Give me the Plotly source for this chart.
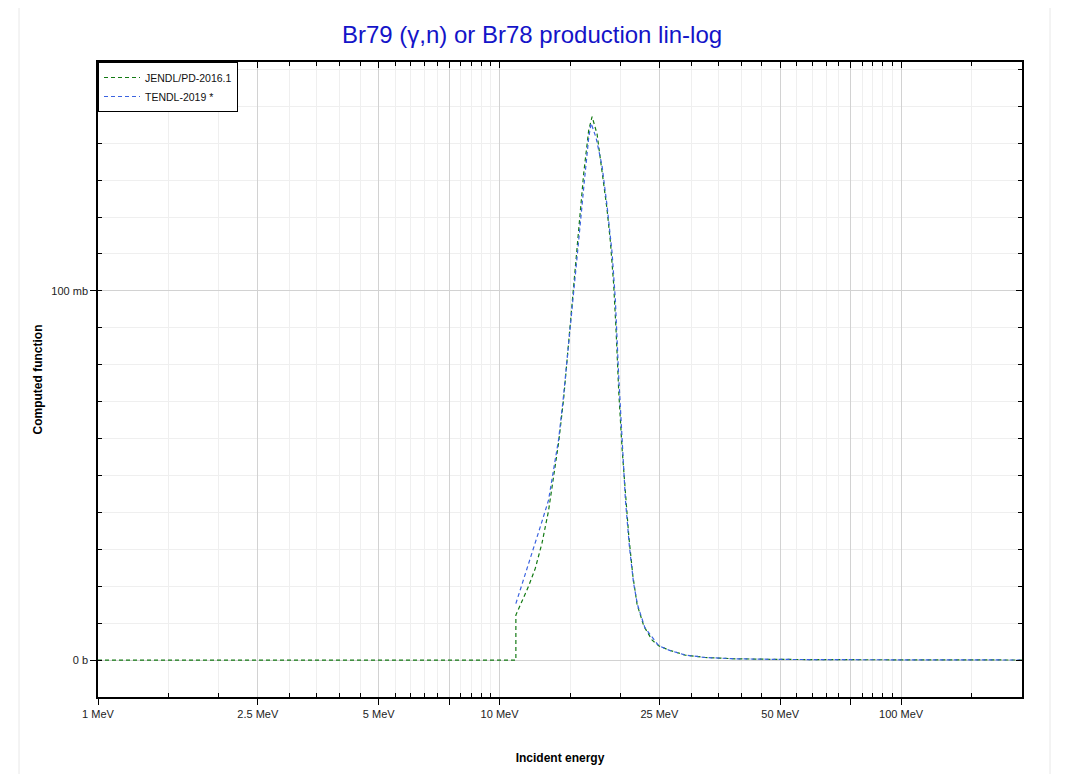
import plotly.graph_objects as go

# JENDL/PD-2016.1 (energy in MeV, cross section in mb)
jendl_E = [1, 10.98, 10.98, 11.8, 12.27, 12.75, 13.24, 13.63, 14.03, 14.43,
           14.86, 15.29, 15.73, 16.2, 16.67, 17.0, 17.49, 18.0, 18.52, 18.88,
           19.24, 19.51, 19.81, 20.2, 20.58, 20.98, 21.47, 22.0, 22.87, 23.99,
           24.9, 26.4, 29.0, 32.5, 38.6, 49.5, 75, 120, 200]
jendl_mb = [0, 0, 12.2, 19.9, 24.8, 31.6, 40.4, 49.1, 58.9, 70.5,
            86.1, 100.7, 115.3, 131.8, 143.5, 147.2, 142.5, 132.8, 122.1, 113.3,
            101.7, 89.0, 72.5, 56.9, 44.3, 33.6, 22.9, 15.1, 9.2, 5.4,
            3.9, 2.7, 1.36, 0.7, 0.35, 0.18, 0.1, 0.05, 0.02]

# TENDL-2019
tendl_E = [10.98, 11.8, 12.27, 12.75, 13.24, 13.63, 14.03, 14.43, 14.86, 15.29,
           15.73, 16.2, 16.67, 16.9, 17.39, 18.0, 18.52, 19.06, 19.42, 19.81,
           20.2, 20.58, 21.06, 21.56, 22.04, 23.0, 24.9, 26.4, 29.0, 32.5,
           38.6, 49.5, 75, 120, 200]
tendl_mb = [15.3, 25.8, 31.6, 37.5, 43.3, 51.1, 59.8, 71.5, 85.1, 99.7,
            113.3, 127.9, 141.5, 145.4, 141.5, 133.8, 123.1, 110.4, 97.8, 76.4,
            57.9, 43.3, 30.6, 20.9, 15.1, 8.8, 3.9, 2.7, 1.36, 0.7,
            0.35, 0.18, 0.1, 0.05, 0.02]

series_names = ["JENDL/PD-2016.1", "TENDL-2019 *"]

x_tickvals = [1, 2.5, 5, 7.5, 10, 25, 50, 75, 100]
x_ticktext = ["1 MeV", "2.5 MeV", "5 MeV", "", "10 MeV", "25 MeV", "50 MeV", "", "100 MeV"]
x_minor = [1.5, 2, 3, 3.5, 4, 4.5, 5.5, 6, 6.5, 7, 8, 8.5, 9, 9.5,
           15, 20, 30, 35, 40, 45, 55, 60, 65, 70, 80, 85, 90, 95, 150]
y_tickvals = [0, 100]
y_ticktext = ["0 b", "100 mb"]

X_RANGE = [0, 2.301]
Y_RANGE = [-10, 162]

FONT = "Arial, 'Liberation Sans', sans-serif"

fig = go.Figure()
fig.add_trace(go.Scatter(x=jendl_E, y=jendl_mb, mode="lines", name=series_names[0],
                         line=dict(color="#137a13", width=1.2, dash="4px,3px")))
fig.add_trace(go.Scatter(x=tendl_E, y=tendl_mb, mode="lines", name=series_names[1],
                         line=dict(color="#3b63e0", width=1.2, dash="4px,3px")))
# invisible helper trace so that the mirrored (top/right) axes are drawn
fig.add_trace(go.Scatter(x=tendl_E[:1], y=tendl_mb[:1], xaxis="x2", yaxis="y2",
                         mode="lines", opacity=0, showlegend=False, hoverinfo="skip"))

fig.update_layout(
    width=1063, height=766,
    margin=dict(l=90, r=49, t=54, b=77, autoexpand=False),
    paper_bgcolor="white", plot_bgcolor="white",
    font=dict(family=FONT, size=11, color="#222"),
    title=dict(text="Br79 (γ,n) or Br78 production lin-log", x=0.493, xanchor="center",
               y=1 - 27 / 766, yanchor="middle", yref="container",
               font=dict(family=FONT, size=24, color="#1414c8")),
    showlegend=True,
    legend=dict(x=0, y=1, xanchor="left", yanchor="top", bgcolor="white",
                bordercolor="black", borderwidth=1, font=dict(family=FONT, size=10.5, color="#111"),
                tracegroupgap=0, itemwidth=36),
    xaxis2=dict(type="log", range=X_RANGE, overlaying="x", side="top", anchor="y",
                tickmode="array", tickvals=x_tickvals, showticklabels=False, automargin=False,
                ticks="inside", ticklen=6, tickcolor="black", showgrid=False, zeroline=False,
                showline=True, linecolor="black", linewidth=1.5,
                minor=dict(tickmode="array", tickvals=x_minor, ticks="inside", ticklen=4,
                           tickcolor="black", showgrid=False)),
    yaxis2=dict(range=Y_RANGE, overlaying="y", side="right", anchor="x",
                tickmode="array", tickvals=y_tickvals, showticklabels=False, automargin=False,
                ticks="inside", ticklen=6, tickcolor="black", showgrid=False, zeroline=False,
                showline=True, linecolor="black", linewidth=1.5,
                minor=dict(dtick=10, tick0=0, ticks="inside", ticklen=4, tickcolor="black",
                           showgrid=False)),
)

fig.update_layout(xaxis=dict(
    type="log", range=X_RANGE, automargin=False,
    tickmode="array", tickvals=x_tickvals, ticktext=x_ticktext,
    ticks="outside", ticklen=6, tickcolor="black",
    showline=True, linecolor="black", linewidth=1.5,
    showgrid=True, gridcolor="#d2d2d2", gridwidth=1, zeroline=False,
    minor=dict(tickmode="array", tickvals=x_minor, ticks="inside", ticklen=4,
               tickcolor="black", showgrid=True, gridcolor="#efefef", gridwidth=1),
    title=dict(text="<b>Incident energy</b>", standoff=35, font=dict(family=FONT, size=12, color="black")),
    tickfont=dict(family=FONT, size=11, color="#222"),
))
fig.update_layout(yaxis=dict(
    range=Y_RANGE, automargin=False,
    tickmode="array", tickvals=y_tickvals, ticktext=y_ticktext,
    ticks="outside", ticklen=6, tickcolor="black",
    showline=True, linecolor="black", linewidth=1.5,
    showgrid=True, gridcolor="#d2d2d2", gridwidth=1, zeroline=False,
    minor=dict(dtick=10, tick0=0, ticks="inside", ticklen=4, tickcolor="black",
               showgrid=True, gridcolor="#efefef", gridwidth=1),
    title=dict(text="<b>Computed function</b>", standoff=6, font=dict(family=FONT, size=12, color="black")),
    tickfont=dict(family=FONT, size=11, color="#222"),
))

# light frame around the chart container
fig.add_shape(type="rect", xref="paper", yref="paper",
              x0=-79 / 924, x1=952 / 924, y0=-0.2, y1=1 + 57 / 635,
              line=dict(color="#e8e8e8", width=1), fillcolor="rgba(0,0,0,0)", layer="below")

fig.write_html("out.html")
